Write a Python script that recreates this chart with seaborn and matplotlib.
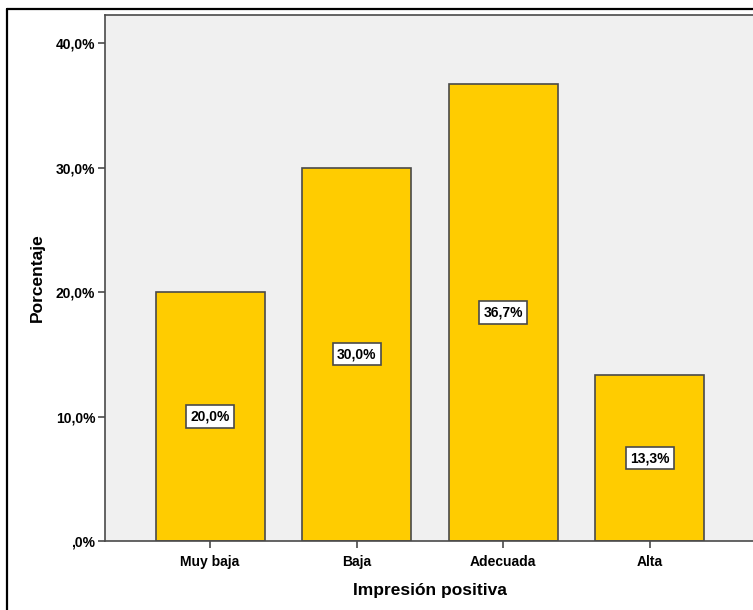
import matplotlib
matplotlib.use("Agg")
import matplotlib.pyplot as plt
from matplotlib.lines import Line2D
import seaborn as sns
import pandas as pd

categories = ["Muy baja", "Baja", "Adecuada", "Alta"]
percentages = [20.0, 30.0, 36.7, 13.3]
value_labels = ["20,0%", "30,0%", "36,7%", "13,3%"]
ytick_values = [0, 10, 20, 30, 40]
ytick_labels = [",0%", "10,0%", "20,0%", "30,0%", "40,0%"]

sns.set_theme(style="white")
plt.rcParams['font.family'] = ['Liberation Sans', 'DejaVu Sans']

W, H = 753, 610
fig = plt.figure(figsize=(W / 100, H / 100), dpi=100)
ax = fig.add_axes([105 / W, (H - 541) / H, (755 - 105) / W, (541 - 15) / H])
ax.set_facecolor("#F0F0F0")

df = pd.DataFrame({"Impresión positiva": categories, "Porcentaje": percentages})
sns.barplot(data=df, x="Impresión positiva", y="Porcentaje", color="#FFCC00",
            saturation=1, edgecolor="#4a4a4a", linewidth=1.2, width=0.744, ax=ax)

ax.set_xlim(-0.717, 3.717)
ax.set_ylim(0, 42.25)
ax.set_yticks(ytick_values)
ax.set_yticklabels(ytick_labels, fontsize=10, fontweight="bold", color="black")
ax.set_xticklabels(categories, fontsize=10, fontweight="bold", color="black")
ax.tick_params(axis="y", direction="out", length=5, width=1.2, color="#4a4a4a",
               left=True, pad=2)
ax.tick_params(axis="x", direction="out", length=5, width=1.2, color="#4a4a4a",
               bottom=True, pad=5)
for s in ["left", "bottom", "top"]:
    ax.spines[s].set_color("#4a4a4a")
    ax.spines[s].set_linewidth(1.2)
ax.spines["right"].set_visible(False)

ax.set_xlabel("Impresión positiva", fontsize=12.5, fontweight="bold", labelpad=10,
              color="black")
ax.set_ylabel("Porcentaje", fontsize=12.5, fontweight="bold", labelpad=8,
              color="black")

ax.bar_label(ax.containers[0], labels=value_labels, label_type="center",
             fontsize=10, fontweight="bold", color="black",
             bbox=dict(boxstyle="square,pad=0.3", facecolor="white",
                       edgecolor="#4a4a4a", linewidth=1.2))

# outer frame
fig.add_artist(Line2D([7 / W, 7 / W], [0, 1 - 9 / H], transform=fig.transFigure,
                      color="black", linewidth=1.6))
fig.add_artist(Line2D([7 / W, 1], [1 - 9 / H, 1 - 9 / H], transform=fig.transFigure,
                      color="black", linewidth=1.6))

fig.savefig("out.png", dpi=100)
